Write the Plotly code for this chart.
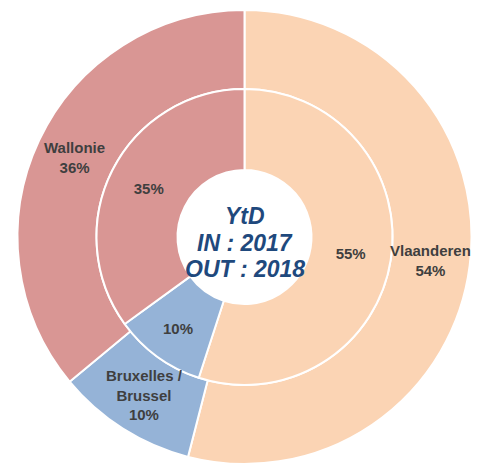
import math
import plotly.graph_objects as go

regions = ["Vlaanderen", "Bruxelles /<br>Brussel", "Wallonie"]
out_values = [54, 10, 36]   # OUT : 2018 (outer ring)
in_values = [55, 10, 35]    # IN : 2017 (inner ring)
colors = ["#FBD4B4", "#95B3D7", "#D99694"]
center_lines = ["YtD", "IN : 2017", "OUT : 2018"]

# the page body adds an 8px margin, so the figure is 8px smaller than the window
OFF = 8
W, H = 479 - OFF, 465 - OFF
PX, PY = 244.5, 237.0          # wanted centre in window pixels (from top-left)
cx, cy = PX - OFF, H - (PY - OFF)  # centre in figure px from left / bottom
R_out, R_mid, R_hole = 227.0, 148.0, 67.0

def clamp(v):
    return min(1.0, max(0.0, v))

def dom(r):
    return dict(x=[clamp((cx - r) / W), clamp((cx + r) / W)],
                y=[clamp((cy - r) / H), clamp((cy + r) / H)])

FS = 15
font_txt = dict(family="Liberation Sans, Arial, sans-serif", size=FS, color="#3F3F3F")

fig = go.Figure()
fig.add_trace(go.Pie(
    labels=regions, values=out_values, sort=False, direction="clockwise", rotation=0,
    hole=R_mid / R_out, domain=dom(R_out),
    marker=dict(colors=colors, line=dict(color="white", width=2)),
    textinfo="none", showlegend=False, hoverinfo="label+percent",
))
fig.add_trace(go.Pie(
    labels=regions, values=in_values, sort=False, direction="clockwise", rotation=0,
    hole=R_hole / R_mid, domain=dom(R_mid),
    marker=dict(colors=colors, line=dict(color="white", width=2)),
    texttemplate="<b>%{percent:.0%}</b>", textposition="inside",
    insidetextorientation="horizontal", textfont=font_txt, showlegend=False,
    hoverinfo="label+percent",
))

# outer-ring labels, placed at the middle of each slice (angle from the data)
total = sum(out_values)
cum = 0
r_lab = (R_mid + R_out) / 2
for lab, v in zip(regions, out_values):
    ang = math.radians((cum + v / 2) / total * 360)   # clockwise from 12 o'clock
    cum += v
    x = cx + r_lab * math.sin(ang)
    y = cy + r_lab * math.cos(ang)
    fig.add_annotation(
        x=x / W, y=y / H, xref="paper", yref="paper", showarrow=False,
        text="<b>%s<br>%d%%</b>" % (lab, round(v / total * 100)),
        xanchor="center", yanchor="middle", align="center", font=font_txt,
    )

# centre text, one line per annotation (window y of each line's centre)
line_py = [216.0, 242.5, 268.5]
for txt, py in zip(center_lines, line_py):
    fig.add_annotation(
        x=cx / W, y=1 - (py - OFF) / H, xref="paper", yref="paper", showarrow=False,
        text="<b><i>" + txt + "</i></b>", xanchor="center", yanchor="middle",
        font=dict(family="Liberation Sans, Arial, sans-serif", size=23, color="#1F497D"),
    )
fig.update_layout(
    width=W, height=H, margin=dict(l=0, r=0, t=0, b=0),
    paper_bgcolor="white", plot_bgcolor="white",
    uniformtext=dict(minsize=FS, mode="show"),
)
fig.write_html("out.html")
